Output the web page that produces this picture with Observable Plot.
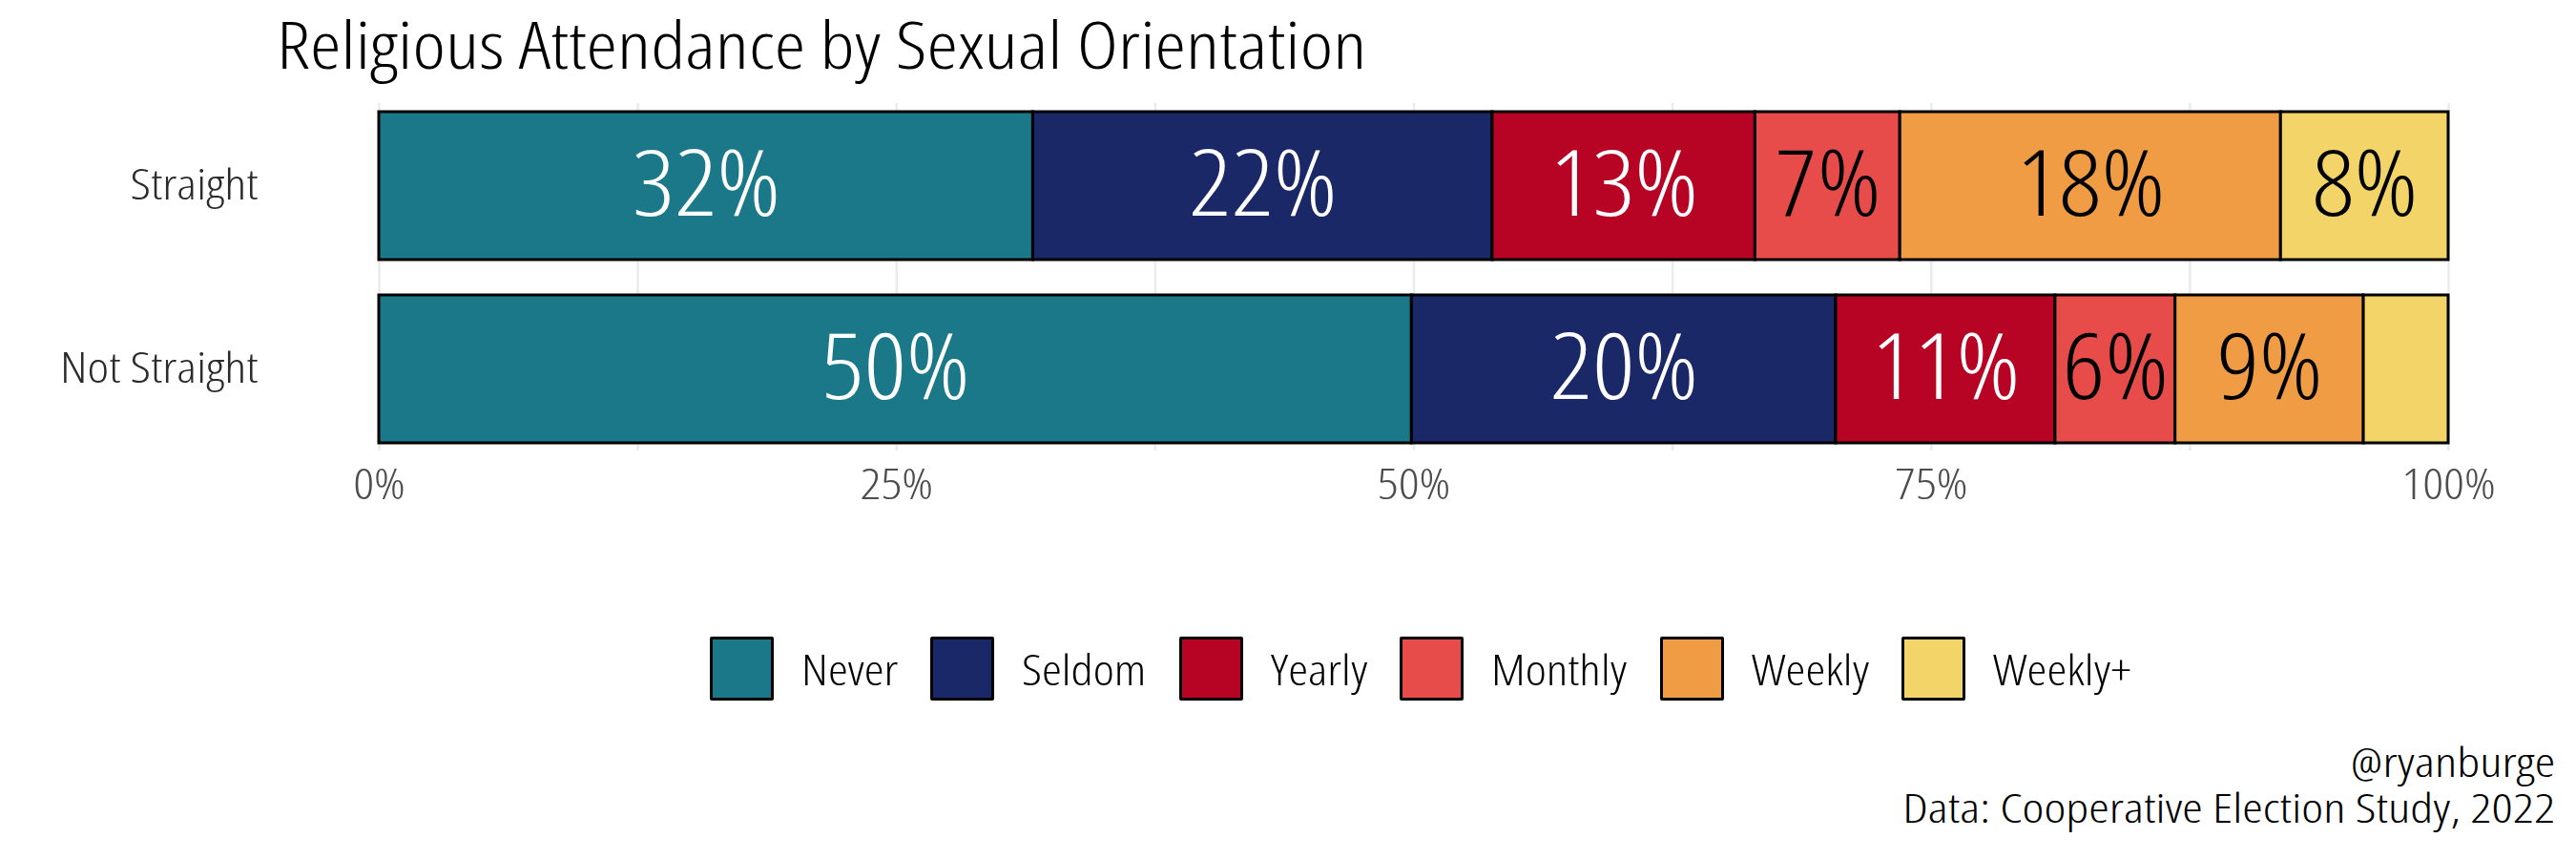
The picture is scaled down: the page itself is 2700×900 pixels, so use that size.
<!DOCTYPE html>
<html>
<head>
<meta charset="utf-8">
<script src="https://cdn.jsdelivr.net/npm/d3@7"></script>
<script src="https://cdn.jsdelivr.net/npm/@observablehq/plot@0.6"></script>
<style>
  html, body { margin: 0; padding: 0; background: #fff; }
  body { width: 2700px; height: 900px; position: relative; overflow: hidden;
         font-family: "Open Sans", sans-serif; font-stretch: condensed; font-weight: 300; }
  #title { position: absolute; left: 290px; top: 12px; font-size: 68px; line-height: 68px; color: #000; white-space: nowrap;
           transform: scaleX(1.21); transform-origin: left center; }
  #chart { position: absolute; left: 0; top: 0; }
  #legend { position: absolute; top: 667px; left: 744px; display: flex; }
  .item { display: flex; align-items: center; margin-right: 34px; }
  .sw { width: 61px; height: 61px; border: 3px solid #000; border-radius: 2px; margin-right: 29px; }
  .lab { font-size: 44px; color: #000; white-space: nowrap; transform: scaleX(1.2); transform-origin: left center; }
  #caption { position: absolute; right: 22px; top: 774px; text-align: right; font-size: 42px; line-height: 48px; color: #000; white-space: nowrap;
             transform: scaleX(1.3); transform-origin: right center; }
</style>
</head>
<body>
<div id="title">Religious Attendance by Sexual Orientation</div>
<div id="chart"></div>
<div id="legend"></div>
<div id="caption">@ryanburge<br>Data: Cooperative Election Study, 2022</div>
<script>
const groups = ["Straight", "Not Straight"];
const categories = ["Never", "Seldom", "Yearly", "Monthly", "Weekly", "Weekly+"];
const colors = ["#1B7889", "#1A2867", "#B80424", "#E74C4A", "#EF9C45", "#F2D469"];
const straightValues = [31.6, 22.2, 12.7, 7.0, 18.4, 8.1];
const notStraightValues = [49.9, 20.5, 10.6, 5.8, 9.1, 4.1];
const straightLabels = ["32%", "22%", "13%", "7%", "18%", "8%"];
const notStraightLabels = ["50%", "20%", "11%", "6%", "9%", "4%"];
const darkCategories = ["Never", "Seldom", "Yearly"];
const axisTicks = [0, 25, 50, 75, 100];
const gridTicks = [0, 12.5, 25, 37.5, 50, 62.5, 75, 87.5, 100];

const data = [];
categories.forEach((c, i) => data.push({group: "Straight", cat: c, value: straightValues[i], label: straightLabels[i]}));
categories.forEach((c, i) => data.push({group: "Not Straight", cat: c, value: notStraightValues[i], label: notStraightLabels[i]}));

const shown = d => d.value >= 5;
const fontFam = '"Open Sans", sans-serif';

const plot = Plot.plot({
  width: 2700,
  height: 560,
  marginLeft: 397,
  marginRight: 134,
  marginTop: 108,
  marginBottom: 88,
  style: {fontFamily: fontFam, fontStretch: "condensed", fontWeight: 300, background: "transparent", overflow: "visible"},
  x: {domain: [0, 100]},
  y: {domain: groups, paddingInner: 0.195, paddingOuter: 0.043},
  color: {domain: categories, range: colors},
  marks: [
    Plot.gridX(gridTicks, {stroke: "#ebebeb", strokeOpacity: 1, strokeWidth: 2.5}),
    Plot.barX(data, Plot.stackX({x: "value", y: "group", fill: "cat", stroke: "#000", strokeWidth: 3})),
    Plot.text(data, Plot.stackX({x: "value", y: "group", z: "cat",
      text: d => shown(d) && darkCategories.includes(d.cat) ? d.label : null,
      fill: "white", fontSize: 96, className: "barlab"})),
    Plot.text(data, Plot.stackX({x: "value", y: "group", z: "cat",
      text: d => shown(d) && !darkCategories.includes(d.cat) ? d.label : null,
      fill: "black", fontSize: 96, className: "barlab"})),
    Plot.axisX(axisTicks, {tickSize: 0, tickPadding: 19, tickFormat: d => d + "%", fontSize: 45, fill: "#4d4d4d", label: null}),
    Plot.axisY({tickSize: 0, tickPadding: 127, fontSize: 45, fill: "#2b2b2b", label: null})
  ]
});
// widen the condensed face slightly, scaling each label around its own anchor
d3.select(plot).selectAll("text").each(function() {
  const inBar = this.closest(".barlab") !== null;
  const t = this.getAttribute("transform") || "";
  this.setAttribute("transform", t + ` scale(${inBar ? 1.14 : 1.2},1)`);
});
document.getElementById("chart").appendChild(plot);

const legend = document.getElementById("legend");
categories.forEach((c, i) => {
  const item = document.createElement("div");
  item.className = "item";
  const sw = document.createElement("div");
  sw.className = "sw";
  sw.style.background = colors[i];
  const lab = document.createElement("div");
  lab.className = "lab";
  lab.textContent = c;
  item.appendChild(sw);
  item.appendChild(lab);
  legend.appendChild(item);
  lab.style.marginRight = (lab.offsetWidth * 0.2) + "px";
});
</script>
</body>
</html>
